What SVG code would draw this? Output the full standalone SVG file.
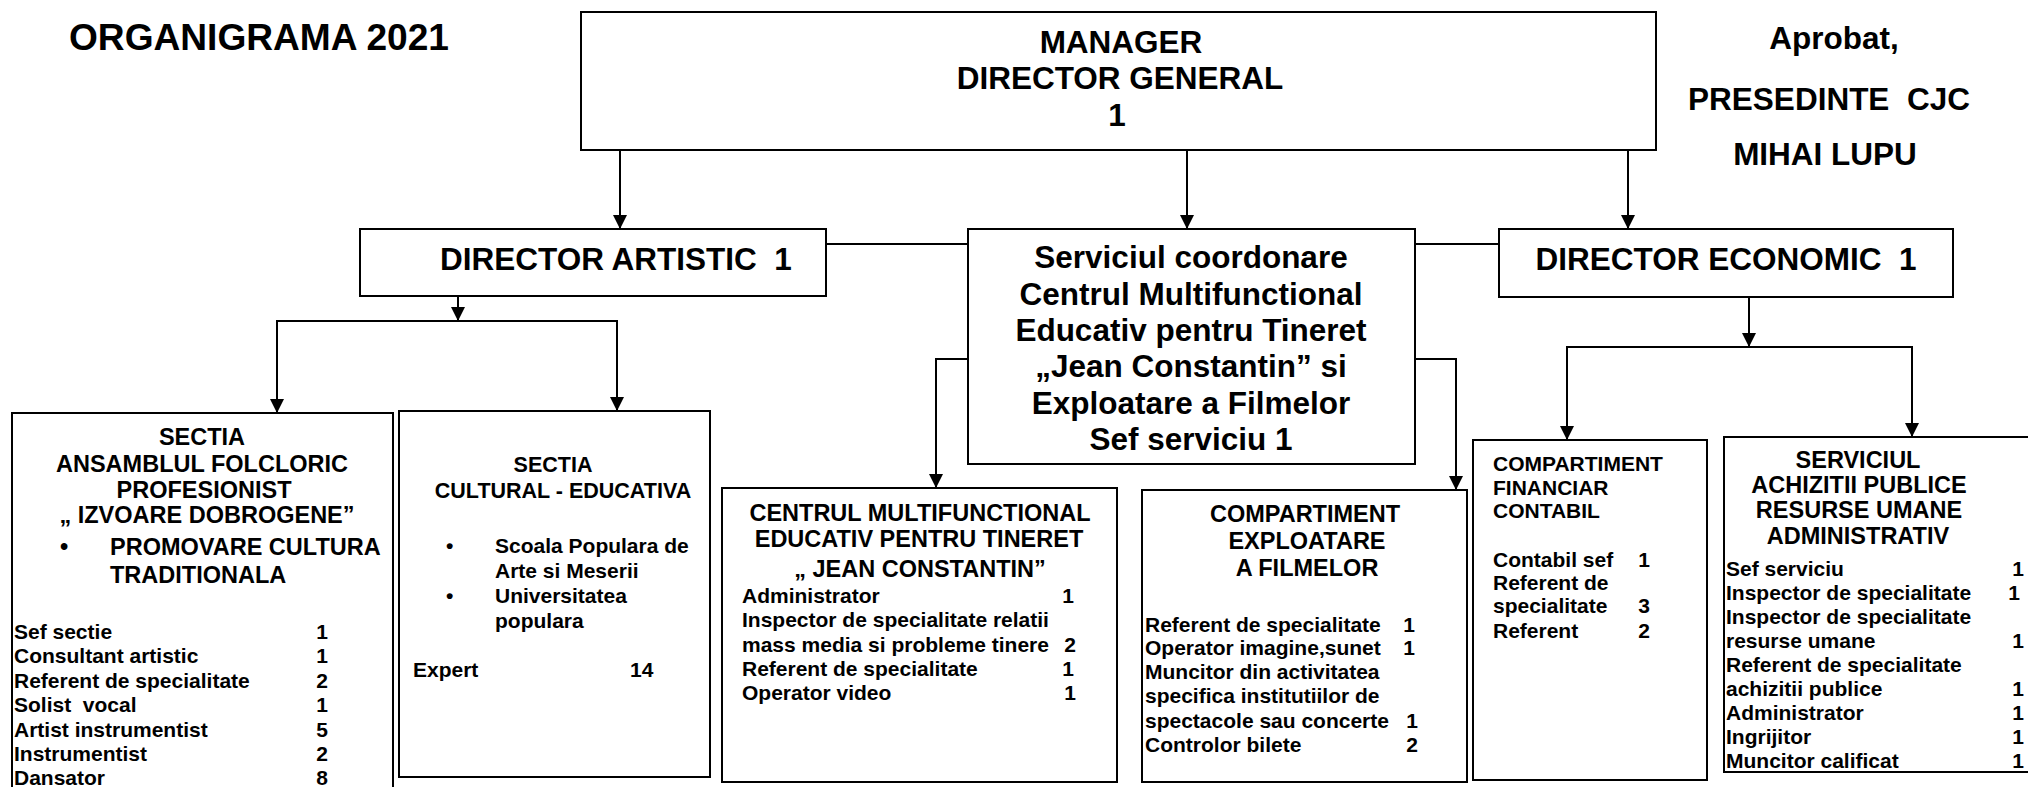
<svg xmlns="http://www.w3.org/2000/svg" width="2028" height="787" viewBox="0 0 2028 787">
<defs>
<style>
.box{fill:#fff;stroke:#000;stroke-width:2}
.c{fill:none;stroke:#000;stroke-width:2}
text{font-family:"Liberation Sans",Arial,sans-serif;font-weight:bold;fill:#000}
.big{font-size:31.5px}
.t{font-size:37px}
.h{font-size:23.5px}
.l{font-size:21px}
.m{text-anchor:middle}
</style>
<marker id="arr" markerUnits="userSpaceOnUse" markerWidth="16" markerHeight="16" refX="14" refY="7" orient="auto">
<path d="M0,0 L14,7 L0,14 z" fill="#000"/>
</marker>
</defs>
<rect width="2028" height="787" fill="#fff"/>

<g id="title">
<text class="t" x="69" y="50" textLength="380" lengthAdjust="spacingAndGlyphs">ORGANIGRAMA 2021</text>
</g>
<g id="aprobat">
<text class="big m" x="1834" y="49">Aprobat,</text>
<text class="big m" x="1829" y="110" xml:space="preserve">PRESEDINTE  CJC</text>
<text class="big m" x="1825" y="165">MIHAI LUPU</text>
</g>

<g id="connectors">
<line class="c" x1="620" y1="150" x2="620" y2="229" marker-end="url(#arr)"/>
<line class="c" x1="1187" y1="150" x2="1187" y2="229" marker-end="url(#arr)"/>
<line class="c" x1="1628" y1="151" x2="1628" y2="229" marker-end="url(#arr)"/>
<line class="c" x1="826" y1="244" x2="968" y2="244"/>
<line class="c" x1="1415" y1="244" x2="1499" y2="244"/>
<line class="c" x1="458" y1="296" x2="458" y2="321" marker-end="url(#arr)"/>
<polyline class="c" points="277,413 277,321 617,321 617,411"/>
<line class="c" x1="277" y1="330" x2="277" y2="413" marker-end="url(#arr)"/>
<line class="c" x1="617" y1="330" x2="617" y2="411" marker-end="url(#arr)"/>
<polyline class="c" points="968,359 936,359 936,488" marker-end="url(#arr)"/>
<polyline class="c" points="1415,359 1456,359 1456,490" marker-end="url(#arr)"/>
<line class="c" x1="1749" y1="297" x2="1749" y2="347" marker-end="url(#arr)"/>
<polyline class="c" points="1567,440 1567,347 1912,347 1912,437"/>
<line class="c" x1="1567" y1="360" x2="1567" y2="440" marker-end="url(#arr)"/>
<line class="c" x1="1912" y1="360" x2="1912" y2="437" marker-end="url(#arr)"/>
</g>

<g id="manager">
<rect class="box" x="581" y="12" width="1075" height="138"/>
<text class="big m" x="1121" y="53">MANAGER</text>
<text class="big m" x="1120" y="89">DIRECTOR GENERAL</text>
<text class="big m" x="1117" y="126">1</text>
</g>

<g id="director-artistic">
<rect class="box" x="360" y="229" width="466" height="67"/>
<text class="big m" x="616" y="270" xml:space="preserve">DIRECTOR ARTISTIC  1</text>
</g>

<g id="serviciul-coordonare">
<rect class="box" x="968" y="229" width="447" height="235"/>
<text class="big m" x="1191" y="268">Serviciul coordonare</text>
<text class="big m" x="1191" y="305">Centrul Multifunctional</text>
<text class="big m" x="1191" y="341">Educativ pentru Tineret</text>
<text class="big m" x="1191" y="377">„Jean Constantin” si</text>
<text class="big m" x="1191" y="414">Exploatare a Filmelor</text>
<text class="big m" x="1191" y="450">Sef serviciu 1</text>
</g>

<g id="director-economic">
<rect class="box" x="1499" y="229" width="454" height="68"/>
<text class="big m" x="1726" y="270" xml:space="preserve">DIRECTOR ECONOMIC  1</text>
</g>

<g id="sectia-ansamblu">
<rect class="box" x="12" y="413" width="381" height="400"/>
<text class="h m" x="202" y="445">SECTIA</text>
<text class="h m" x="202" y="472">ANSAMBLUL FOLCLORIC</text>
<text class="h m" x="204" y="498">PROFESIONIST</text>
<text class="h m" x="207" y="523">„ IZVOARE DOBROGENE”</text>
<text class="h" x="60" y="555">•</text>
<text class="h" x="110" y="555">PROMOVARE CULTURA</text>
<text class="h" x="110" y="583">TRADITIONALA</text>
<text class="l" x="14" y="639">Sef sectie</text>
<text class="l" x="14" y="663">Consultant artistic</text>
<text class="l" x="14" y="688">Referent de specialitate</text>
<text class="l" x="14" y="712" xml:space="preserve">Solist  vocal</text>
<text class="l" x="14" y="737">Artist instrumentist</text>
<text class="l" x="14" y="761">Instrumentist</text>
<text class="l" x="14" y="785">Dansator</text>
<text class="l m" x="322" y="639">1</text>
<text class="l m" x="322" y="663">1</text>
<text class="l m" x="322" y="688">2</text>
<text class="l m" x="322" y="712">1</text>
<text class="l m" x="322" y="737">5</text>
<text class="l m" x="322" y="761">2</text>
<text class="l m" x="322" y="785">8</text>
</g>

<g id="sectia-cultural">
<rect class="box" x="399" y="411" width="311" height="366"/>
<text class="h m" x="553" y="472" style="font-size:21.5px">SECTIA</text>
<text class="h m" x="563" y="498" style="font-size:21.5px">CULTURAL - EDUCATIVA</text>
<text class="l" x="446" y="553">•</text>
<text class="l" x="495" y="553">Scoala Populara de</text>
<text class="l" x="495" y="578">Arte si Meserii</text>
<text class="l" x="446" y="603">•</text>
<text class="l" x="495" y="603">Universitatea</text>
<text class="l" x="495" y="628">populara</text>
<text class="l" x="413" y="677">Expert</text>
<text class="l" x="630" y="677">14</text>
</g>

<g id="centrul-multifunctional">
<rect class="box" x="722" y="488" width="395" height="294"/>
<text class="h m" x="920" y="521">CENTRUL MULTIFUNCTIONAL</text>
<text class="h m" x="919" y="547">EDUCATIV PENTRU TINERET</text>
<text class="h m" x="920" y="577">„ JEAN CONSTANTIN”</text>
<text class="l" x="742" y="603">Administrator</text>
<text class="l" x="742" y="627">Inspector de specialitate relatii</text>
<text class="l" x="742" y="652">mass media si probleme tinere</text>
<text class="l" x="742" y="676">Referent de specialitate</text>
<text class="l" x="742" y="700">Operator video</text>
<text class="l m" x="1068" y="603">1</text>
<text class="l m" x="1070" y="652">2</text>
<text class="l m" x="1068" y="676">1</text>
<text class="l m" x="1070" y="700">1</text>
</g>

<g id="compartiment-exploatare">
<rect class="box" x="1142" y="490" width="325" height="292"/>
<text class="h m" x="1305" y="522">COMPARTIMENT</text>
<text class="h m" x="1307" y="549">EXPLOATARE</text>
<text class="h m" x="1307" y="576">A FILMELOR</text>
<text class="l" x="1145" y="632">Referent de specialitate</text>
<text class="l" x="1145" y="655">Operator imagine,sunet</text>
<text class="l" x="1145" y="679">Muncitor din activitatea</text>
<text class="l" x="1145" y="703">specifica institutiilor de</text>
<text class="l" x="1145" y="728">spectacole sau concerte</text>
<text class="l" x="1145" y="752">Controlor bilete</text>
<text class="l m" x="1409" y="632">1</text>
<text class="l m" x="1409" y="655">1</text>
<text class="l m" x="1412" y="728">1</text>
<text class="l m" x="1412" y="752">2</text>
</g>

<g id="compartiment-financiar">
<rect class="box" x="1473" y="440" width="234" height="340"/>
<text class="l" x="1493" y="471">COMPARTIMENT</text>
<text class="l" x="1493" y="495">FINANCIAR</text>
<text class="l" x="1493" y="518">CONTABIL</text>
<text class="l" x="1493" y="567">Contabil sef</text>
<text class="l" x="1493" y="590">Referent de</text>
<text class="l" x="1493" y="613">specialitate</text>
<text class="l" x="1493" y="638">Referent</text>
<text class="l m" x="1644" y="567">1</text>
<text class="l m" x="1644" y="613">3</text>
<text class="l m" x="1644" y="638">2</text>
</g>

<g id="serviciul-achizitii">
<rect class="box" x="1724" y="437" width="330" height="335"/>
<text class="h m" x="1858" y="468">SERVICIUL</text>
<text class="h m" x="1859" y="493">ACHIZITII PUBLICE</text>
<text class="h m" x="1859" y="518">RESURSE UMANE</text>
<text class="h m" x="1858" y="544">ADMINISTRATIV</text>
<text class="l" x="1726" y="576">Sef serviciu</text>
<text class="l" x="1726" y="600">Inspector de specialitate</text>
<text class="l" x="1726" y="624">Inspector de specialitate</text>
<text class="l" x="1726" y="648">resurse umane</text>
<text class="l" x="1726" y="672">Referent de specialitate</text>
<text class="l" x="1726" y="696">achizitii publice</text>
<text class="l" x="1726" y="720">Administrator</text>
<text class="l" x="1726" y="744">Ingrijitor</text>
<text class="l" x="1726" y="768">Muncitor calificat</text>
<text class="l m" x="2018" y="576">1</text>
<text class="l m" x="2014" y="600">1</text>
<text class="l m" x="2018" y="648">1</text>
<text class="l m" x="2018" y="696">1</text>
<text class="l m" x="2018" y="720">1</text>
<text class="l m" x="2018" y="744">1</text>
<text class="l m" x="2018" y="768">1</text>
</g>
</svg>
